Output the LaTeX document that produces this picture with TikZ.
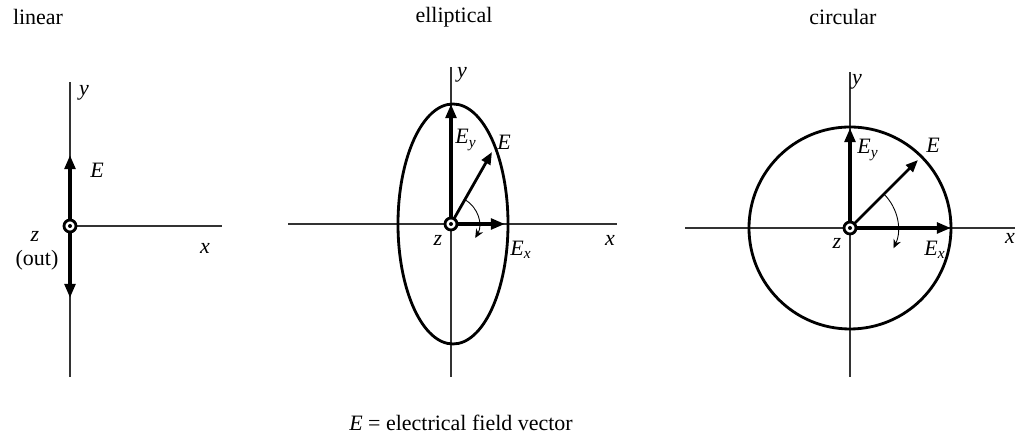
\documentclass[tikz,border=0pt]{standalone}
\usepackage{fontspec}
\setmainfont{Liberation Serif}
\usepackage{tikz}
\usetikzlibrary{arrows.meta,calc}
\newcommand{\fE}{\textit{E}}
\newcommand{\fEsub}[1]{\textit{E}\textsubscript{\textit{#1}}}

\begin{document}
\begin{tikzpicture}[x=0.02cm,y=0.02cm,
  axis/.style={draw=black!80,line width=0.9pt},
  curve/.style={line width=1.6pt},
  vec/.style={-{Triangle[length=8pt,width=6pt]},line width=2.4pt},
  tilt/.style={-{Triangle[length=7pt,width=5.5pt]},line width=1.6pt},
  turn/.style={-{Stealth[length=5pt,width=4.5pt]},line width=0.5pt},
  marker/.style={line width=1.6pt,fill=white},
  lbl/.style={inner sep=0pt,font=\fontsize{12.5}{14}\selectfont},
  title/.style={lbl}]
\useasboundingbox (0,0) rectangle (1019,435);
% linear
\coordinate (o1) at (70,209);
\coordinate (y1t) at (70,353);
\coordinate (y1b) at (70,58);
\coordinate (x1r) at (222,209);
\coordinate (e1u) at (70,280);
\coordinate (e1d) at (70,137);
\node[title] (tlin) at (38,418) {linear};
\draw[axis] (y1b) -- (y1t);
\draw[axis] (o1) -- (x1r);
\draw[vec] (o1) -- (e1u);
\draw[vec] (o1) -- (e1d);
\draw[marker] (o1) circle [radius=6];
\fill (o1) circle [radius=2];
\node[lbl] (ly1) at (84,342) {\textit{y}};
\node[lbl] (le1) at (97,265) {\fE};
\node[lbl] (lz1) at (35,199) {\textit{z}};
\node[lbl] (lout) at (37,175) {(out)};
\node[lbl] (lx1) at (205,187) {\textit{x}};
% elliptical
\coordinate (o2) at (451,211);
\coordinate (y2t) at (451,368);
\coordinate (y2b) at (451,58);
\coordinate (x2l) at (288,211);
\coordinate (x2r) at (617,211);
\coordinate (ey2) at (451,331);
\coordinate (e2) at (492,283);
\coordinate (ex2) at (505,211);
\node[title] (tell) at (454,418) {elliptical};
\draw[axis] (y2b) -- (y2t);
\draw[axis] (x2l) -- (x2r);
\draw[curve] (453,211) ellipse [x radius=55,y radius=120];
\draw[vec] (o2) -- (ey2);
\draw[vec] (o2) -- (ex2);
\draw[tilt] (o2) -- (e2);
\draw[turn] ($(o2)+(60:28)$) arc [start angle=60,end angle=-30,radius=28];
\draw[marker] (o2) circle [radius=6];
\fill (o2) circle [radius=2];
\node[lbl] (ly2) at (462,360) {\textit{y}};
\node[lbl] (ley2) at (466,295) {\fEsub{y}};
\node[lbl] (le2) at (504,293) {\fE};
\node[lbl] (lex2) at (521,185) {\fEsub{x}};
\node[lbl] (lz2) at (438,195) {\textit{z}};
\node[lbl] (lx2) at (610,195) {\textit{x}};
% circular
\coordinate (o3) at (850,207);
\coordinate (y3t) at (850,363);
\coordinate (y3b) at (850,58);
\coordinate (x3l) at (685,207);
\coordinate (x3r) at (1015,207);
\coordinate (ey3) at (850,307);
\coordinate (e3) at (918,275);
\coordinate (ex3) at (951,207);
\node[title] (tcir) at (843,418) {circular};
\draw[axis] (y3b) -- (y3t);
\draw[axis] (x3l) -- (x3r);
\draw[curve] (o3) circle [radius=101];
\draw[vec] (o3) -- (ey3);
\draw[vec] (o3) -- (ex3);
\draw[tilt] (o3) -- (e3);
\draw[turn] ($(o3)+(45:48)$) arc [start angle=45,end angle=-25,radius=48];
\draw[marker] (o3) circle [radius=6];
\fill (o3) circle [radius=2];
\node[lbl] (ly3) at (857,353) {\textit{y}};
\node[lbl] (ley3) at (868,285) {\fEsub{y}};
\node[lbl] (le3) at (933,290) {\fE};
\node[lbl] (lex3) at (935,185) {\fEsub{x}};
\node[lbl] (lz3) at (837,192) {\textit{z}};
\node[lbl] (lx3) at (1010,197) {\textit{x}};
% caption
\node[lbl] (cap) at (461,12) {\fE{} = electrical field vector};
\end{tikzpicture}
\end{document}
